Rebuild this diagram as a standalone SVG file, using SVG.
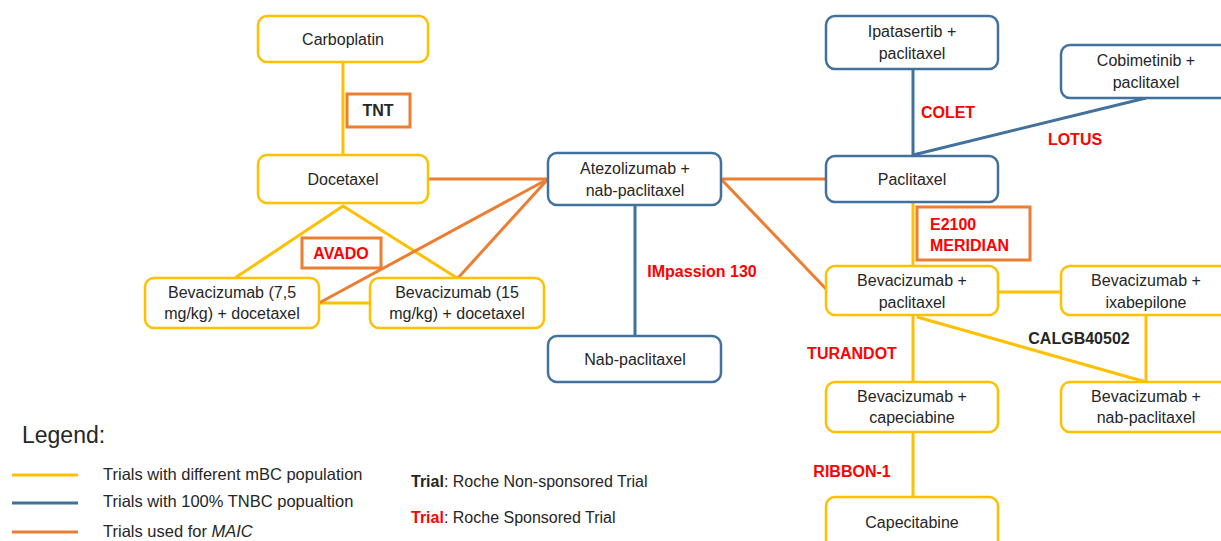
<svg xmlns="http://www.w3.org/2000/svg" width="1221" height="541" viewBox="0 0 1221 541">
<style>
text{font-family:"Liberation Sans",Arial,sans-serif;}
.n{fill:#fff;stroke-width:2.5;}
.y{stroke:#FFC000;}
.b{stroke:#41719C;}
.t{font-size:16px;fill:#262626;text-anchor:middle;}
.lab{font-size:16px;font-weight:bold;fill:#FF0000;}
.lk{font-size:16px;font-weight:bold;fill:#262626;}
.cy{stroke:#FFC000;stroke-width:3;fill:none;}
.cb{stroke:#41719C;stroke-width:3;fill:none;}
.co{stroke:#ED7D31;stroke-width:3;fill:none;}
.lb{fill:#fff;stroke:#ED7D31;stroke-width:3;}
.lg{font-size:16.5px;fill:#262626;}
</style>
<rect width="1221" height="541" fill="#fff"/>
<g id="connectors">
<line class="cy" x1="343" y1="61" x2="343" y2="155"/>
<polyline class="cy" points="235,278 343,206 457,278"/>
<line class="cy" x1="319" y1="303" x2="370" y2="303"/>
<line class="co" x1="428" y1="179" x2="548" y2="179"/>
<line class="co" x1="319" y1="303" x2="548" y2="179"/>
<line class="co" x1="458" y1="278" x2="548" y2="179"/>
<line class="cb" x1="635" y1="205" x2="635" y2="336"/>
<line class="co" x1="721" y1="179" x2="826" y2="179"/>
<line class="co" x1="721" y1="179" x2="827" y2="290"/>
<line class="cb" x1="913" y1="69" x2="913" y2="156"/>
<line class="cb" x1="913" y1="155" x2="1146" y2="98"/>
<line class="cy" x1="913" y1="202" x2="913" y2="266"/>
<line class="cy" x1="998" y1="292" x2="1061" y2="292"/>
<line class="cy" x1="913" y1="315" x2="913" y2="382"/>
<line class="cy" x1="913" y1="432" x2="913" y2="497"/>
<line class="cy" x1="1146" y1="315" x2="1146" y2="382"/>
<line class="cy" x1="917" y1="317" x2="1146" y2="382"/>
</g>
<g id="labels">
<rect class="lb" x="347" y="94" width="63" height="33"/>
<text class="lk" x="378" y="116" text-anchor="middle">TNT</text>
<rect class="lb" x="302" y="238" width="79" height="30"/>
<text class="lab" x="341" y="259" text-anchor="middle">AVADO</text>
<text class="lab" x="702" y="277" text-anchor="middle">IMpassion 130</text>
<text class="lab" x="948" y="118" text-anchor="middle">COLET</text>
<text class="lab" x="1075" y="145" text-anchor="middle">LOTUS</text>
<rect class="lb" x="917" y="207" width="113" height="53"/>
<text class="lab" x="930" y="230">E2100</text>
<text class="lab" x="930" y="251">MERIDIAN</text>
<text class="lk" x="1079" y="344" text-anchor="middle">CALGB40502</text>
<text class="lab" x="852" y="359" text-anchor="middle">TURANDOT</text>
<text class="lab" x="852" y="477" text-anchor="middle">RIBBON-1</text>
</g>
<g id="carboplatin"><rect class="n y" x="258" y="16" width="170" height="46" rx="9"/><text class="t" x="343" y="45">Carboplatin</text></g>
<g id="docetaxel"><rect class="n y" x="258" y="155" width="170" height="48" rx="9"/><text class="t" x="343" y="185">Docetaxel</text></g>
<g id="bev75"><rect class="n y" x="145" y="278" width="174" height="50" rx="9"/><text class="t" x="232" y="298">Bevacizumab (7,5</text><text class="t" x="232" y="319">mg/kg) + docetaxel</text></g>
<g id="bev15"><rect class="n y" x="370" y="278" width="174" height="50" rx="9"/><text class="t" x="457" y="298">Bevacizumab (15</text><text class="t" x="457" y="319">mg/kg) + docetaxel</text></g>
<g id="atezo"><rect class="n b" x="548" y="153" width="173" height="52" rx="9"/><text class="t" x="635" y="174">Atezolizumab +</text><text class="t" x="635" y="196">nab-paclitaxel</text></g>
<g id="nabpac"><rect class="n b" x="548" y="336" width="173" height="46" rx="9"/><text class="t" x="635" y="365">Nab-paclitaxel</text></g>
<g id="ipat"><rect class="n b" x="826" y="16" width="172" height="53" rx="9"/><text class="t" x="912" y="37">Ipatasertib +</text><text class="t" x="912" y="59">paclitaxel</text></g>
<g id="cobi"><rect class="n b" x="1061" y="45" width="172" height="53" rx="9"/><text class="t" x="1146" y="66">Cobimetinib +</text><text class="t" x="1146" y="88">paclitaxel</text></g>
<g id="paclitaxel"><rect class="n b" x="826" y="156" width="172" height="46" rx="9"/><text class="t" x="912" y="185">Paclitaxel</text></g>
<g id="bevpac"><rect class="n y" x="826" y="266" width="172" height="49" rx="9"/><text class="t" x="912" y="286">Bevacizumab +</text><text class="t" x="912" y="308">paclitaxel</text></g>
<g id="bevixa"><rect class="n y" x="1061" y="266" width="172" height="49" rx="9"/><text class="t" x="1146" y="286">Bevacizumab +</text><text class="t" x="1146" y="308">ixabepilone</text></g>
<g id="bevcape"><rect class="n y" x="826" y="382" width="172" height="50" rx="9"/><text class="t" x="912" y="402">Bevacizumab +</text><text class="t" x="912" y="423">capeciabine</text></g>
<g id="bevnab"><rect class="n y" x="1061" y="382" width="172" height="50" rx="9"/><text class="t" x="1146" y="402">Bevacizumab +</text><text class="t" x="1146" y="423">nab-paclitaxel</text></g>
<g id="capecitabine"><rect class="n y" x="826" y="497" width="172" height="60" rx="9"/><text class="t" x="912" y="528">Capecitabine</text></g>
<g id="legend">
<text x="22" y="443" style="font-size:23px;fill:#262626">Legend:</text>
<line class="cy" x1="12" y1="475" x2="78" y2="475"/>
<line class="cb" x1="12" y1="503" x2="78" y2="503"/>
<line class="co" x1="12" y1="532" x2="78" y2="532"/>
<text class="lg" x="103" y="480">Trials with different mBC population</text>
<text class="lg" x="103" y="507">Trials with 100% TNBC popualtion</text>
<text class="lg" x="103" y="537">Trials used for <tspan font-style="italic">MAIC</tspan></text>
<text class="lg" x="411" y="487" style="font-size:16px"><tspan font-weight="bold">Trial</tspan>: Roche Non-sponsored Trial</text>
<text class="lg" x="411" y="523" style="font-size:16px"><tspan font-weight="bold" fill="#FF0000">Trial</tspan>: Roche Sponsored Trial</text>
</g>
</svg>
